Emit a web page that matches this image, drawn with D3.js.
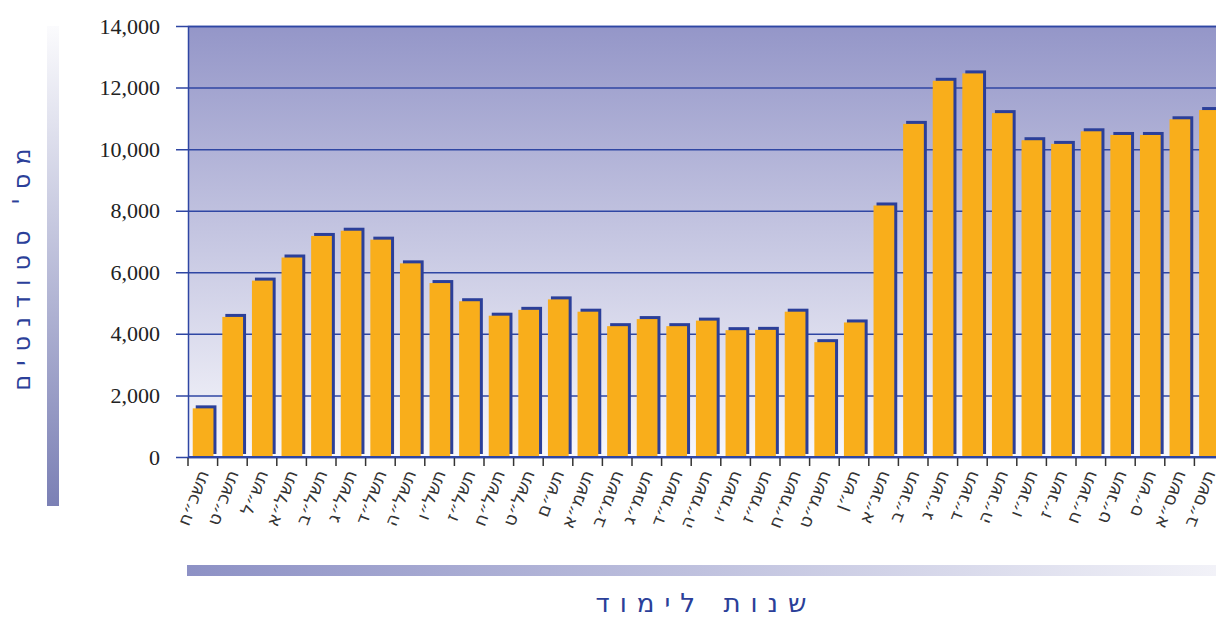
<!DOCTYPE html>
<html>
<head>
<meta charset="utf-8">
<script src="https://cdn.jsdelivr.net/npm/d3@7"></script>
<style>
  body { margin: 0; background: #fff; }
  svg { display: block; }
</style>
</head>
<body>
<div class="chart"></div>
<script>
const W = 1216, H = 618;

// academic years (Hebrew) and number of students
const years = ["תשכ״ח","תשכ״ט","תש״ל","תשל״א","תשל״ב","תשל״ג","תשל״ד","תשל״ה","תשל״ו","תשל״ז",
  "תשל״ח","תשל״ט","תש״ם","תשמ״א","תשמ״ב","תשמ״ג","תשמ״ד","תשמ״ה","תשמ״ו","תשמ״ז",
  "תשמ״ח","תשמ״ט","תש״ן","תשנ״א","תשנ״ב","תשנ״ג","תשנ״ד","תשנ״ה","תשנ״ו","תשנ״ז",
  "תשנ״ח","תשנ״ט","תש״ס","תשס״א","תשס״ב"];
const students = [1580, 4550, 5730, 6480, 7180, 7350, 7060, 6290, 5650, 5060,
  4590, 4780, 5120, 4720, 4250, 4480, 4250, 4430, 4120, 4130,
  4720, 3730, 4370, 8170, 10820, 12220, 12460, 11170, 10290, 10170,
  10580, 10460, 10460, 10970, 11270];
const yTicks = [0, 2000, 4000, 6000, 8000, 10000, 12000, 14000];

const margin = {top: 26, left: 188, bottom: 161};
const plotBottom = H - margin.bottom;   // 457
const plotRight = 188 + 29.6 * years.length;

const x = d3.scaleBand()
    .domain(years)
    .range([margin.left, plotRight])
    .paddingInner(0)

const y = d3.scaleLinear()
    .domain([0, 14000])
    .range([plotBottom, margin.top])

const svg = d3.select('.chart').append('svg')
    .attr("width", W)
    .attr("height", H)

const defs = svg.append("defs")
const bg = defs.append("linearGradient").attr("id", "bg")
    .attr("x1", 0).attr("y1", 0).attr("x2", 0).attr("y2", 1)
bg.append("stop").attr("offset", "0%").attr("stop-color", "#9496c8")
bg.append("stop").attr("offset", "100%").attr("stop-color", "#f8f8fc")

const ybar = defs.append("linearGradient").attr("id", "ybar")
    .attr("x1", 0).attr("y1", 0).attr("x2", 0).attr("y2", 1)
ybar.append("stop").attr("offset", "0%").attr("stop-color", "#fbfbfd")
ybar.append("stop").attr("offset", "100%").attr("stop-color", "#7b80b5")

const xbar = defs.append("linearGradient").attr("id", "xbar")
    .attr("x1", 0).attr("y1", 0).attr("x2", 1).attr("y2", 0)
xbar.append("stop").attr("offset", "0%").attr("stop-color", "#8d91c5")
xbar.append("stop").attr("offset", "100%").attr("stop-color", "#f2f2f8")

// plot background
svg.append("rect")
    .attr("x", margin.left).attr("y", margin.top)
    .attr("width", plotRight - margin.left).attr("height", plotBottom - margin.top)
    .attr("fill", "url(#bg)")

// grid lines + y ticks
const yAxis = d3.axisLeft(y)
    .tickValues(yTicks)
    .tickSize(-(plotRight - margin.left))
    .tickFormat(d3.format(","))

const gy = svg.append("g")
    .attr("transform", "translate(" + margin.left + ",0)")
    .call(yAxis)
gy.select(".domain").attr("stroke", "#2f46a3").attr("stroke-width", 1.5)
gy.selectAll(".tick line")
    .attr("stroke", "#2f46a3").attr("stroke-width", 1.5)
    .attr("x1", -12)
gy.selectAll(".tick text")
    .attr("fill", "#222")
    .style("font-family", "Liberation Serif, serif")
    .style("font-size", "22px")
    .attr("x", -28)

// bars: blue shadow, then orange face
const bars = svg.append("g")
bars.selectAll(".shadow")
    .data(years)
    .enter().append("rect")
    .attr("class", "shadow")
    .attr("x", (d, i) => x(d) + x.bandwidth() * 0.16 + 3)
    .attr("y", (d, i) => y(students[i]) - 3)
    .attr("width", x.bandwidth() * 0.7)
    .attr("height", (d, i) => plotBottom - y(students[i]))
    .attr("fill", "#2b3f99")
bars.selectAll(".face")
    .data(years)
    .enter().append("rect")
    .attr("class", "face")
    .attr("x", d => x(d) + x.bandwidth() * 0.16)
    .attr("y", (d, i) => y(students[i]))
    .attr("width", x.bandwidth() * 0.7)
    .attr("height", (d, i) => plotBottom - y(students[i]) - 1)
    .attr("fill", "#f9ae1b")

// x axis line
svg.append("line")
    .attr("x1", margin.left).attr("x2", plotRight)
    .attr("y1", plotBottom).attr("y2", plotBottom)
    .attr("stroke", "#2f46a3").attr("stroke-width", 2)

// boundary ticks
svg.append("g").selectAll("line")
    .data(years)
    .enter().append("line")
    .attr("x1", d => x(d)).attr("x2", d => x(d))
    .attr("y1", plotBottom + 1).attr("y2", plotBottom + 9)
    .attr("stroke", "#333").attr("stroke-width", 1.5)

// x labels
svg.append("g").selectAll("text")
    .data(years)
    .enter().append("text")
    .attr("transform", d => "translate(" + (x(d) + x.bandwidth() * 0.52) + "," + (plotBottom + 14) + ") rotate(-69)")
    .attr("text-anchor", "end")
    .attr("dy", "0.35em")
    .attr("fill", "#333")
    .style("font-family", "DejaVu Sans, sans-serif")
    .style("font-size", "18px")
    .text(d => d)

// y title
svg.append("rect")
    .attr("x", 47).attr("y", 26).attr("width", 12).attr("height", 480)
    .attr("fill", "url(#ybar)")
svg.append("text")
    .attr("transform", "translate(30,265) rotate(-90)")
    .attr("text-anchor", "middle")
    .attr("fill", "#2b3f99")
    .style("font-family", "DejaVu Sans, sans-serif")
    .style("font-size", "24px")
    .style("letter-spacing", "9px")
    .text("מס' סטודנטים")

// x title
svg.append("rect")
    .attr("x", 187).attr("y", 565).attr("width", W - 187).attr("height", 11)
    .attr("fill", "url(#xbar)")
svg.append("text")
    .attr("x", 706).attr("y", 612)
    .attr("text-anchor", "middle")
    .attr("fill", "#2b3f99")
    .style("font-family", "DejaVu Sans, sans-serif")
    .style("font-size", "26px")
    .style("letter-spacing", "10px")
    .text("שנות לימוד")
</script>
</body>
</html>
